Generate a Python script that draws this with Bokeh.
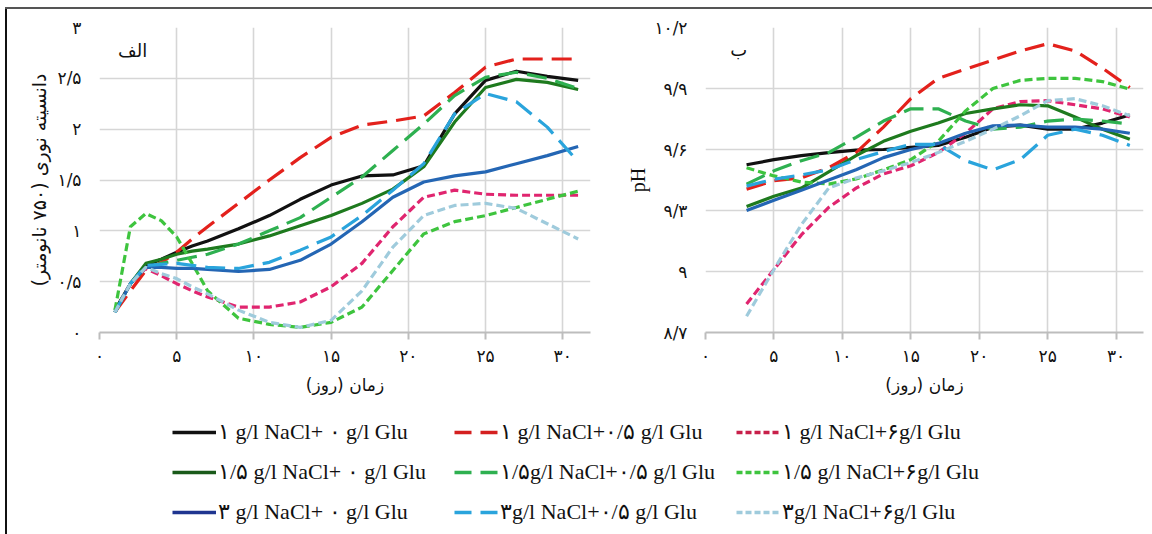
from bokeh.plotting import figure
from bokeh.layouts import row, column, Spacer
from bokeh.models import FixedTicker, Label, Legend, LegendItem, Range1d
from bokeh.embed import file_html
from bokeh.resources import INLINE

# ---------------- data ----------------
days_od = [1, 2, 3, 4, 5, 6, 7, 9, 11, 13, 15, 17, 19, 21, 23, 25, 27, 29, 31]
days_ph = [3, 5, 7, 9, 11, 13, 15, 17, 19, 21, 23, 25, 27, 29, 31]

od_1_0 = [0.22, 0.48, 0.66, 0.72, 0.79, 0.85, 0.90, 1.02, 1.15, 1.31, 1.45, 1.54, 1.55, 1.64, 2.15, 2.48, 2.57, 2.52, 2.48]
od_1_05 = [0.20, 0.41, 0.61, 0.69, 0.79, 0.92, 1.04, 1.27, 1.50, 1.72, 1.92, 2.04, 2.08, 2.13, 2.36, 2.61, 2.69, 2.69, 2.69]
od_1_6 = [0.20, 0.48, 0.63, 0.56, 0.48, 0.41, 0.35, 0.25, 0.25, 0.30, 0.45, 0.68, 1.04, 1.33, 1.40, 1.36, 1.35, 1.35, 1.35]
od_15_0 = [0.20, 0.48, 0.68, 0.72, 0.77, 0.80, 0.82, 0.87, 0.95, 1.05, 1.15, 1.27, 1.41, 1.63, 2.07, 2.41, 2.49, 2.46, 2.39]
od_15_05 = [0.20, 0.48, 0.64, 0.68, 0.71, 0.74, 0.77, 0.87, 1.00, 1.13, 1.33, 1.53, 1.79, 2.05, 2.33, 2.51, 2.56, 2.50, 2.40]
od_15_6 = [0.22, 1.04, 1.17, 1.10, 0.94, 0.68, 0.41, 0.14, 0.08, 0.05, 0.10, 0.25, 0.61, 0.97, 1.09, 1.15, 1.23, 1.31, 1.39]
od_3_0 = [0.20, 0.48, 0.64, 0.64, 0.63, 0.63, 0.62, 0.60, 0.62, 0.71, 0.87, 1.09, 1.33, 1.48, 1.54, 1.58, 1.66, 1.74, 1.83]
od_3_05 = [0.20, 0.48, 0.66, 0.67, 0.68, 0.66, 0.64, 0.63, 0.69, 0.81, 0.94, 1.15, 1.40, 1.66, 2.15, 2.35, 2.27, 2.02, 1.68]
od_3_6 = [0.20, 0.48, 0.64, 0.58, 0.53, 0.45, 0.38, 0.22, 0.10, 0.05, 0.12, 0.41, 0.84, 1.15, 1.25, 1.27, 1.22, 1.07, 0.92]

ph_1_0 = [9.525, 9.55, 9.57, 9.585, 9.597, 9.60, 9.61, 9.62, 9.66, 9.71, 9.72, 9.70, 9.70, 9.73, 9.77]
ph_1_05 = [9.405, 9.446, 9.46, 9.51, 9.585, 9.71, 9.85, 9.95, 9.995, 10.04, 10.085, 10.12, 10.085, 10.00, 9.905]
ph_1_6 = [8.84, 9.01, 9.18, 9.315, 9.41, 9.48, 9.52, 9.585, 9.68, 9.80, 9.836, 9.84, 9.82, 9.80, 9.76]
ph_15_0 = [9.32, 9.37, 9.41, 9.49, 9.57, 9.64, 9.69, 9.73, 9.777, 9.80, 9.82, 9.815, 9.76, 9.70, 9.65]
ph_15_05 = [9.43, 9.495, 9.545, 9.585, 9.66, 9.74, 9.80, 9.80, 9.74, 9.70, 9.71, 9.74, 9.75, 9.74, 9.725]
ph_15_6 = [9.51, 9.47, 9.44, 9.43, 9.455, 9.50, 9.55, 9.64, 9.79, 9.90, 9.94, 9.95, 9.95, 9.934, 9.897]
ph_3_0 = [9.30, 9.35, 9.40, 9.45, 9.50, 9.56, 9.60, 9.63, 9.68, 9.716, 9.72, 9.71, 9.71, 9.70, 9.68]
ph_3_05 = [9.42, 9.454, 9.475, 9.50, 9.55, 9.59, 9.625, 9.625, 9.545, 9.50, 9.55, 9.67, 9.70, 9.67, 9.62]
ph_3_6 = [8.78, 9.01, 9.23, 9.41, 9.46, 9.495, 9.536, 9.585, 9.64, 9.70, 9.766, 9.84, 9.85, 9.815, 9.766]

series_labels = [
    "۱ g/l NaCl+ ۰ g/l Glu", "۱ g/l NaCl+۰/۵ g/l Glu", "۱ g/l NaCl+۶g/l Glu",
    "۱/۵ g/l NaCl+ ۰ g/l Glu", "۱/۵g/l NaCl+۰/۵ g/l Glu", "۱/۵ g/l NaCl+۶g/l Glu",
    "۳ g/l NaCl+ ۰ g/l Glu", "۳g/l NaCl+۰/۵ g/l Glu", "۳g/l NaCl+۶g/l Glu",
]
od_series = [od_1_0, od_1_05, od_1_6, od_15_0, od_15_05, od_15_6, od_3_0, od_3_05, od_3_6]
ph_series = [ph_1_0, ph_1_05, ph_1_6, ph_15_0, ph_15_05, ph_15_6, ph_3_0, ph_3_05, ph_3_6]

x_ticks = [0, 5, 10, 15, 20, 25, 30]
x_labels = ["۰", "۵", "۱۰", "۱۵", "۲۰", "۲۵", "۳۰"]
od_ticks = [0, 0.5, 1, 1.5, 2, 2.5, 3]
od_labels = ["۰", "۰/۵", "۱", "۱/۵", "۲", "۲/۵", "۳"]
ph_ticks = [8.7, 9.0, 9.3, 9.6, 9.9, 10.2]
ph_labels = ["۸/۷", "۹", "۹/۳", "۹/۶", "۹/۹", "۱۰/۲"]

# ---------------- styles ----------------
colors = ["#111111", "#e3211c", "#e0256f",
          "#1e7a1e", "#2eb050", "#3ec43e",
          "#2466b4", "#2aa4dc", "#9fcbdc"]
legend_colors = ["#111111", "#d42020", "#c8204a",
                 "#1a5a1a", "#2eb050", "#3ec43e",
                 "#1f3590", "#2aa4dc", "#9fcbdc"]
LONG = "20 9"
SHORT = "8 4"
dashes = ["solid", LONG, SHORT] * 3
legend_dashes = ["solid", "17 9", "6 3"] * 3
FA = "DejaVu Sans"
LAT = "Liberation Serif"


def style_axes(p, yticks, ylabels, ylabel):
    p.xaxis.ticker = FixedTicker(ticks=x_ticks)
    p.xaxis.major_label_overrides = dict(zip(x_ticks, x_labels))
    p.yaxis.ticker = FixedTicker(ticks=yticks)
    p.yaxis.major_label_overrides = dict(zip(yticks, ylabels))
    p.xgrid.ticker = FixedTicker(ticks=x_ticks)
    p.ygrid.ticker = FixedTicker(ticks=yticks)
    for g in (p.xgrid, p.ygrid):
        g.grid_line_color = "#d6d6d6"
        g.grid_line_width = 1.6
    p.outline_line_color = None
    p.xaxis.axis_line_color = "#bdbdbd"
    p.xaxis.axis_line_width = 2
    p.xaxis.major_tick_line_color = "#bdbdbd"
    p.xaxis.major_tick_line_width = 2
    p.xaxis.major_tick_out = 7
    p.xaxis.major_tick_in = 0
    p.xaxis.minor_tick_line_color = None
    p.yaxis.axis_line_color = None
    p.yaxis.major_tick_line_color = None
    p.yaxis.minor_tick_line_color = None
    for ax in (p.xaxis, p.yaxis):
        ax.major_label_text_font = FA
        ax.major_label_text_font_size = "17px"
        ax.major_label_text_color = "#111111"
        ax.axis_label_text_font = FA
        ax.axis_label_text_font_style = "normal"
        ax.axis_label_text_color = "#111111"
    p.yaxis.major_label_standoff = 12
    p.xaxis.major_label_standoff = 6
    p.xaxis.axis_label = "زمان (روز)"
    p.xaxis.axis_label_text_font_size = "17px"
    p.xaxis.axis_label_standoff = 6
    p.yaxis.axis_label = ylabel
    p.yaxis.axis_label_text_font_size = "19px"
    p.yaxis.axis_label_standoff = 5


common = dict(output_backend="svg", toolbar_location=None, height=391,
              min_border_top=18, min_border_bottom=68)

p1 = figure(width=613, x_range=Range1d(0, 31.8), y_range=Range1d(0, 3),
            min_border_left=92, min_border_right=30, **common)
style_axes(p1, od_ticks, od_labels, "دانسیته نوری (۷۵۰ نانومتر)")
for ys, c, d in zip(od_series, colors, dashes):
    p1.line(days_od, ys, line_color=c, line_width=3.2, line_dash=d, line_join="round")
p1.add_layout(Label(x=1.2, y=2.77, text="الف", text_font=FA, text_font_size="18px",
                    text_baseline="middle", text_align="left", text_color="#111111"))

p2 = figure(width=532, x_range=Range1d(0, 32), y_range=Range1d(8.7, 10.2),
            min_border_left=85, min_border_right=9, **common)
style_axes(p2, ph_ticks, ph_labels, "pH")
p2.yaxis.axis_label_text_font = LAT
p2.yaxis.axis_label_text_font_size = "20px"
p2.yaxis.axis_label_standoff = 2
for ys, c, d in zip(ph_series, colors, dashes):
    p2.line(days_ph, ys, line_color=c, line_width=3.2, line_dash=d, line_join="round")
p2.add_layout(Label(x=1.8, y=10.09, text="ب", text_font=FA, text_font_size="18px",
                    text_baseline="middle", text_align="left", text_color="#111111"))

# ---------------- legend panel ----------------
p3 = figure(width=1145, height=125, x_range=Range1d(0, 1), y_range=Range1d(0, 1),
            output_backend="svg", toolbar_location=None, min_border=0)
p3.axis.visible = False
p3.grid.visible = False
p3.outline_line_color = None
items = []
# legend fills column by column: order so that rows read by NaCl level
for i in [0, 3, 6, 1, 4, 7, 2, 5, 8]:
    r = p3.line(x=[float("nan")], y=[float("nan")], line_color=legend_colors[i],
                line_width=3.5, line_dash=legend_dashes[i])
    items.append(LegendItem(label=series_labels[i], renderers=[r]))
legend = Legend(items=items, ncols=3, location=(165, 0), glyph_width=44, glyph_height=24,
                label_height=24, label_width=222, label_standoff=2, spacing=14,
                padding=0, margin=0, border_line_color=None, background_fill_alpha=0,
                label_text_font=LAT, label_text_font_size="22px",
                label_text_color="#111111")
p3.add_layout(legend)

# ---------------- frame lines + layout ----------------
top_line = Spacer(width=1147, height=2, styles={"background-color": "#555555"})
left_line = Spacer(width=2, height=525, styles={"background-color": "#111111"})
content = column(row(p1, p2), p3)
layout = column(Spacer(height=7),
                row(Spacer(width=5), column(top_line, row(left_line, content))))

open("out.html", "w").write(file_html(layout, INLINE))
